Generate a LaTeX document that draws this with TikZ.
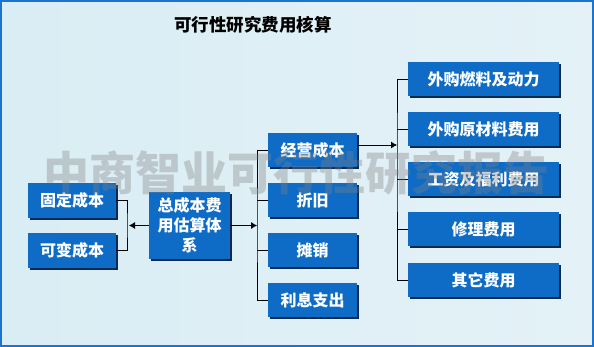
\documentclass[tikz,border=0pt]{standalone}
\usepackage{fontspec}
\setmainfont{Noto Sans CJK SC}
\usetikzlibrary{arrows.meta,positioning,shadows}
\usepackage{xcolor}
\definecolor{boxblue}{HTML}{0F6CC6}
\definecolor{boxshade}{HTML}{0B2A50}
\definecolor{framblue}{HTML}{1C74D2}
\definecolor{bgleft}{HTML}{D9EDF4}
\definecolor{bgright}{HTML}{E4F2F7}

\begin{document}
\begin{tikzpicture}[
  x=1pt, y=-1pt,
  costbox/.style={fill=boxblue, text=white, font=\fontsize{16}{20}\selectfont\bfseries, align=center, inner sep=2pt,
    drop shadow={shadow xshift=1.5pt, shadow yshift=-2pt, fill=boxshade, opacity=1}},
  leftbox/.style={costbox, minimum width=88pt, minimum height=35pt},
  midbox/.style={costbox, minimum width=89pt, minimum height=34pt},
  rightbox/.style={costbox, minimum width=151pt, minimum height=34pt},
  >={Latex[length=6pt,width=7pt]}, line width=0.8pt
]

\shade[left color=bgleft, right color=bgright] (0,0) rectangle (594,347);
\draw[framblue, line width=2pt] (1,1) rectangle (593,346);
\useasboundingbox (0,0) rectangle (594,347);

\node[font=\fontsize{17.5}{20}\selectfont\bfseries] (title) at (253,25) {可行性研究费用核算};

\node[costbox, minimum width=81pt, minimum height=67pt] (total) at (189.5,225.5) {总成本费\\用估算体\\系};

\node[leftbox] (fixed) at (72,200.5) {固定成本};
\node[leftbox] (variable) at (72,250.5) {可变成本};

\node[midbox] (oper) at (312.5,150) {经营成本};
\node[midbox] (depr) at (312.5,200.5) {折旧};
\node[midbox] (amort) at (312.5,250.5) {摊销};
\node[midbox] (inter) at (312.5,300) {利息支出};

\node[rightbox] (fuel) at (483.5,79) {外购燃料及动力};
\node[rightbox] (raw) at (483.5,129.5) {外购原材料费用};
\node[rightbox] (wage) at (483.5,179.5) {工资及福利费用};
\node[rightbox] (repair) at (483.5,229.5) {修理费用};
\node[rightbox] (other) at (483.5,280) {其它费用};

\coordinate (lbr) at (127,225.5);
\coordinate (mbr) at (257,225.5);
\coordinate (rbr) at (397,145);

\draw (fixed.east) -| (lbr) |- (variable.east);
\draw[->] (total.west) -- ([xshift=2pt]lbr);

\draw[->] (total.east) -- (mbr);
\draw (oper.west) -| (mbr) |- (inter.west);
\draw (depr.west) -- (depr.west -| mbr);
\draw (amort.west) -- (amort.west -| mbr);

\draw[->] ([yshift=5pt]oper.east) -- (rbr);
\draw (fuel.west) -| (rbr) |- (other.west);
\draw (raw.west) -- (raw.west -| rbr);
\draw (wage.west) -- (wage.west -| rbr);
\draw (repair.west) -- (repair.west -| rbr);

\node[text=gray, opacity=0.35, font=\fontsize{46}{50}\selectfont\bfseries] (mark) at (296,173) {中商智业可行性研究报告};

\end{tikzpicture}
\end{document}
